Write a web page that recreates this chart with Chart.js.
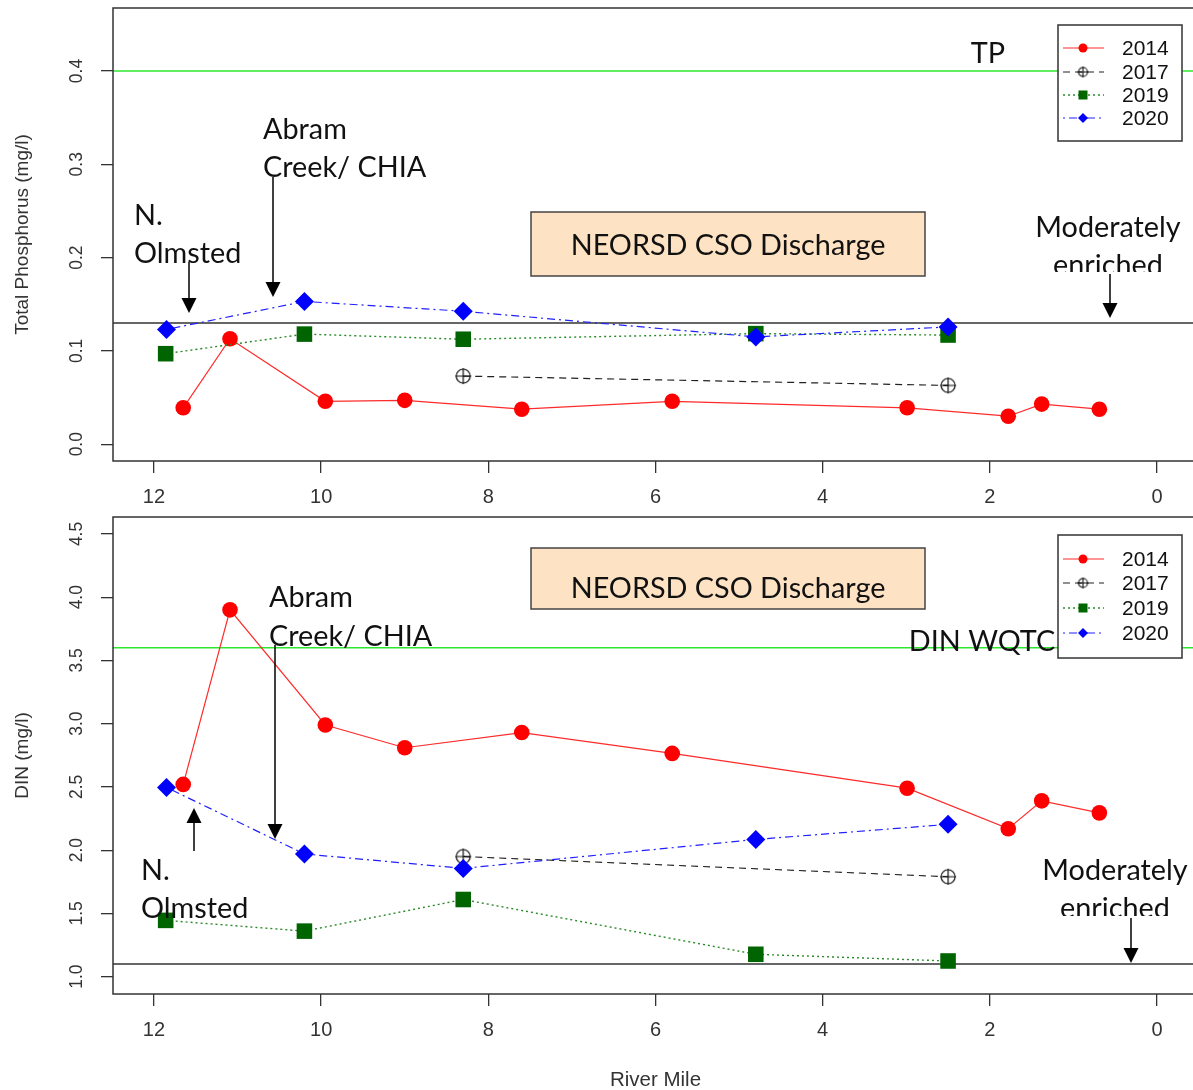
<!DOCTYPE html>
<html><head><meta charset="utf-8">
<script src="https://cdn.jsdelivr.net/npm/chart.js@4.4.1/dist/chart.umd.min.js"></script>
<style>
html,body{margin:0;padding:0;background:#fff;overflow:hidden;width:1193px;height:1090px;}
#w1{position:absolute;left:0;top:0;width:1200px;height:505px;}
#w2{position:absolute;left:0;top:505px;width:1200px;height:585px;}
</style></head><body>
<div id="w1"><canvas id="c1"></canvas></div>
<div id="w2"><canvas id="c2"></canvas></div>
<script>
// ---- data ----
const years = ['2014', '2017', '2019', '2020'];
const mile2014 = [11.65, 11.09, 9.95, 9.0, 7.6, 5.8, 2.99, 1.78, 1.38, 0.69];
const mile2017 = [8.3, 2.5];
const mile2019 = [11.86, 10.2, 8.3, 4.8, 2.5];
const mile2020 = [11.85, 10.2, 8.3, 4.8, 2.5];

const tp2014 = [0.039, 0.113, 0.046, 0.047, 0.0375, 0.046, 0.039, 0.030, 0.043, 0.0375];
const tp2017 = [0.073, 0.063];
const tp2019 = [0.097, 0.118, 0.1125, 0.1185, 0.117];
const tp2020 = [0.123, 0.153, 0.1425, 0.115, 0.1257];

const din2014 = [2.52, 3.90, 2.99, 2.81, 2.93, 2.765, 2.49, 2.17, 2.39, 2.295];
const din2017 = [1.95, 1.79];
const din2019 = [1.445, 1.36, 1.61, 1.177, 1.124];
const din2020 = [2.496, 1.97, 1.856, 2.085, 2.204];

const mileTicks = [12, 10, 8, 6, 4, 2, 0];
const tpTicks = [0.0, 0.1, 0.2, 0.3, 0.4];
const dinTicks = [1.0, 1.5, 2.0, 2.5, 3.0, 3.5, 4.0, 4.5];

const tpRefLines = [0.4, 0.13];     // TP target (green), moderately enriched (black)
const dinRefLines = [3.6, 1.1];     // DIN WQTC (green), moderately enriched (black)

// ---- styling helpers ----
function crossCircle(r, lw) {
  const s = Math.ceil(2 * r + 4);
  const c = document.createElement('canvas');
  c.width = s; c.height = s;
  const g = c.getContext('2d');
  const m = s / 2;
  g.strokeStyle = '#111'; g.lineWidth = lw;
  g.beginPath(); g.arc(m, m, r, 0, Math.PI * 2); g.stroke();
  g.beginPath(); g.moveTo(m - r - 1, m); g.lineTo(m + r + 1, m);
  g.moveTo(m, m - r - 1); g.lineTo(m, m + r + 1); g.stroke();
  return c;
}
const crossBig = crossCircle(7, 1.2);
const crossSmall = crossCircle(4.5, 1.1);

const seriesStyle = [
  {color: '#ff0000', line: '#ff2a2a', dash: [], style: 'circle', radius: 7.8, lw: 1.2, order: 3},
  {color: '#111111', line: '#222222', dash: [7, 5], style: crossBig, radius: 7, lw: 1.2, order: 2},
  {color: '#006400', line: '#2a8a2a', dash: [2, 3], style: 'rect', radius: 11, lw: 1.4, order: 1},
  {color: '#0000ff', line: '#2020ff', dash: [2, 4, 8, 4], style: 'rectRot', radius: 9.5, lw: 1.2, order: 0}
];

function makeDatasets(milesArr, valsArr) {
  return milesArr.map((ms, i) => {
    const st = seriesStyle[i];
    return {
      label: years[i],
      data: ms.map((m, k) => ({x: m, y: valsArr[i][k]})),
      showLine: true,
      borderColor: st.line,
      borderWidth: st.lw,
      borderDash: st.dash,
      backgroundColor: st.color,
      pointBackgroundColor: st.color,
      pointBorderColor: st.color,
      pointBorderWidth: 0,
      pointStyle: st.style,
      pointRadius: st.radius,
      pointHoverRadius: st.radius,
      tension: 0,
      order: st.order
    };
  });
}

const ANN_FONT = '28.8px Lato';

function drawArrow(ctx, x, yStart, yTip) {
  const dir = yTip > yStart ? 1 : -1;
  const hh = 15, hw = 7.5;
  ctx.save();
  ctx.strokeStyle = '#000'; ctx.fillStyle = '#000'; ctx.lineWidth = 1.5;
  ctx.beginPath(); ctx.moveTo(x, yStart); ctx.lineTo(x, yTip - dir * hh); ctx.stroke();
  ctx.beginPath(); ctx.moveTo(x, yTip); ctx.lineTo(x - hw, yTip - dir * hh); ctx.lineTo(x + hw, yTip - dir * hh); ctx.closePath(); ctx.fill();
  ctx.restore();
}
function drawText(ctx, s, x, y, align) {
  ctx.save();
  ctx.font = ANN_FONT; ctx.fillStyle = '#111'; ctx.textAlign = align || 'left'; ctx.textBaseline = 'alphabetic';
  ctx.fillText(s, x, y);
  ctx.restore();
}
function drawBox(ctx, x1, y1, x2, y2, label, baseline) {
  ctx.save();
  ctx.fillStyle = '#fde2c3'; ctx.strokeStyle = '#444'; ctx.lineWidth = 1.5;
  ctx.fillRect(x1, y1, x2 - x1, y2 - y1); ctx.strokeRect(x1, y1, x2 - x1, y2 - y1);
  ctx.restore();
  drawText(ctx, label, (x1 + x2) / 2, baseline, 'center');
}
function drawLegend(ctx, chart, box, rows) {
  ctx.save();
  ctx.fillStyle = '#fff'; ctx.strokeStyle = '#333'; ctx.lineWidth = 1.5;
  ctx.fillRect(box[0], box[1], box[2] - box[0], box[3] - box[1]);
  ctx.strokeRect(box[0], box[1], box[2] - box[0], box[3] - box[1]);
  chart.data.datasets.forEach((ds, i) => {
    const y = rows[i];
    const st = seriesStyle[i];
    ctx.save();
    ctx.strokeStyle = st.line; ctx.lineWidth = st.lw; ctx.setLineDash(st.dash);
    ctx.beginPath(); ctx.moveTo(box[0] + 5, y); ctx.lineTo(box[0] + 46, y); ctx.stroke();
    ctx.restore();
    const mx = box[0] + 25;
    ctx.fillStyle = st.color;
    if (i === 0) { ctx.beginPath(); ctx.arc(mx, y, 4.5, 0, Math.PI * 2); ctx.fill(); }
    else if (i === 1) { ctx.drawImage(crossSmall, mx - crossSmall.width / 2, y - crossSmall.height / 2); }
    else if (i === 2) { ctx.fillRect(mx - 4.5, y - 4.5, 9, 9); }
    else { ctx.beginPath(); ctx.moveTo(mx - 5, y); ctx.lineTo(mx, y - 5); ctx.lineTo(mx + 5, y); ctx.lineTo(mx, y + 5); ctx.closePath(); ctx.fill(); }
    ctx.fillStyle = '#111'; ctx.font = '21px "Liberation Sans"'; ctx.textAlign = 'left'; ctx.textBaseline = 'middle';
    ctx.fillText(ds.label, box[0] + 64, y + 1);
  });
  ctx.restore();
}

function decoPlugin(opts) {
  return {
    id: 'deco',
    beforeDatasetsDraw(chart) {
      const {ctx, chartArea, scales} = chart;
      ctx.save();
      opts.refLines.forEach((v, i) => {
        const y = scales.y.getPixelForValue(v);
        ctx.strokeStyle = i === 0 ? '#2ee82e' : '#333';
        ctx.lineWidth = i === 0 ? 1.4 : 1.5;
        ctx.beginPath(); ctx.moveTo(chartArea.left, y); ctx.lineTo(chartArea.right, y); ctx.stroke();
      });
      ctx.restore();
    },
    afterDatasetsDraw(chart) {
      const {ctx, chartArea} = chart;
      ctx.save();
      ctx.strokeStyle = '#333'; ctx.lineWidth = 1.5;
      ctx.strokeRect(chartArea.left, chartArea.top, chartArea.right - chartArea.left, chartArea.bottom - chartArea.top);
      ctx.restore();
      opts.annotate(ctx);
      drawLegend(ctx, chart, opts.legendBox, opts.legendRows);
    }
  };
}

function noPad(s) { s.paddingTop = 0; s.paddingBottom = 0; s.paddingLeft = 0; s.paddingRight = 0; }

function makeChart(canvasId, cfg) {
  return new Chart(document.getElementById(canvasId), {
    type: 'scatter',
    data: {datasets: cfg.datasets},
    options: {
      responsive: true, maintainAspectRatio: false, animation: false, devicePixelRatio: 1,
      layout: {autoPadding: false, padding: {top: cfg.padTop, right: 2, left: 0, bottom: 0}},
      plugins: {legend: {display: false}, tooltip: {enabled: false}},
      scales: {
        x: {
          type: 'linear', reverse: true, min: -0.49, max: 12.49,
          afterBuildTicks: s => { s.ticks = mileTicks.map(v => ({value: v})); },
          afterFit: s => { s.height = cfg.xAxisH; noPad(s); },
          grid: {drawOnChartArea: false, drawTicks: true, tickLength: 12, color: '#333', lineWidth: 1.3},
          border: {display: false},
          ticks: {font: {family: 'Liberation Sans', size: 20}, color: '#333', padding: 12, minRotation: 0, maxRotation: 0, callback: v => String(v)},
          title: {display: cfg.xTitle, text: 'River Mile', color: '#333', font: {family: 'Liberation Sans', size: 20.5, lineHeight: 1}, padding: {top: 0, bottom: -1}}
        },
        y: {
          type: 'linear', min: cfg.yMin, max: cfg.yMax,
          afterBuildTicks: s => { s.ticks = cfg.yTicks.map(v => ({value: v})); },
          afterFit: s => { s.width = 113; noPad(s); },
          grid: {drawOnChartArea: false, drawTicks: true, tickLength: 12, color: '#333', lineWidth: 1.3},
          border: {display: false},
          ticks: {font: {family: 'Liberation Sans', size: 17.5}, color: '#333', padding: 12, minRotation: 90, maxRotation: 90, crossAlign: 'center', callback: v => Number(v).toFixed(1)},
          title: {display: true, text: cfg.yTitle, color: '#333', font: {family: 'Liberation Sans', size: 19}, padding: {top: 11, bottom: 0}}
        }
      }
    },
    plugins: [decoPlugin(cfg)]
  });
}

// ---- top chart: Total Phosphorus ----
makeChart('c1', {
  datasets: makeDatasets([mile2014, mile2017, mile2019, mile2020], [tp2014, tp2017, tp2019, tp2020]),
  yTicks: tpTicks, yMin: -0.018, yMax: 0.4675, yTitle: 'Total Phosphorus (mg/l)',
  padTop: 8, xAxisH: 44, xTitle: false,
  refLines: tpRefLines,
  legendBox: [1058, 25, 1182, 141], legendRows: [48, 72, 95, 118],
  annotate(ctx) {
    drawText(ctx, 'TP', 988, 63, 'center');
    drawText(ctx, 'Abram', 263, 139);
    drawText(ctx, 'Creek/ CHIA', 263, 177);
    drawArrow(ctx, 273, 177, 297);
    drawText(ctx, 'N.', 134, 225);
    drawText(ctx, 'Olmsted', 134, 263);
    drawArrow(ctx, 189, 262, 313);
    drawBox(ctx, 531, 212, 925, 276, 'NEORSD CSO Discharge', 255);
    drawText(ctx, 'Moderately', 1108, 237, 'center');
    ctx.save(); ctx.beginPath(); ctx.rect(1000, 240, 200, 32); ctx.clip();
    drawText(ctx, 'enriched', 1108, 275, 'center');
    ctx.restore();
    drawArrow(ctx, 1110, 274, 318);
  }
});

// ---- bottom chart: DIN ----
makeChart('c2', {
  datasets: makeDatasets([mile2014, mile2017, mile2019, mile2020], [din2014, din2017, din2019, din2020]),
  yTicks: dinTicks, yMin: 0.863, yMax: 4.634, yTitle: 'DIN (mg/l)',
  padTop: 12, xAxisH: 96, xTitle: true,
  refLines: dinRefLines,
  legendBox: [1058, 30, 1182, 153], legendRows: [54, 78, 103, 128],
  annotate(ctx) {
    drawBox(ctx, 531, 43, 925, 104, 'NEORSD CSO Discharge', 93);
    drawText(ctx, 'Abram', 269, 102);
    drawText(ctx, 'Creek/ CHIA', 269, 141);
    drawArrow(ctx, 275, 140, 334);
    drawText(ctx, 'DIN WQTC', 982, 146, 'center');
    drawText(ctx, 'N.', 141, 375);
    drawText(ctx, 'Olmsted', 141, 413);
    drawArrow(ctx, 194, 346, 303);
    drawText(ctx, 'Moderately', 1115, 375, 'center');
    ctx.save(); ctx.beginPath(); ctx.rect(1000, 378, 200, 33); ctx.clip();
    drawText(ctx, 'enriched', 1115, 413, 'center');
    ctx.restore();
    drawArrow(ctx, 1131, 413, 458);
  }
});
</script>
</body></html>
